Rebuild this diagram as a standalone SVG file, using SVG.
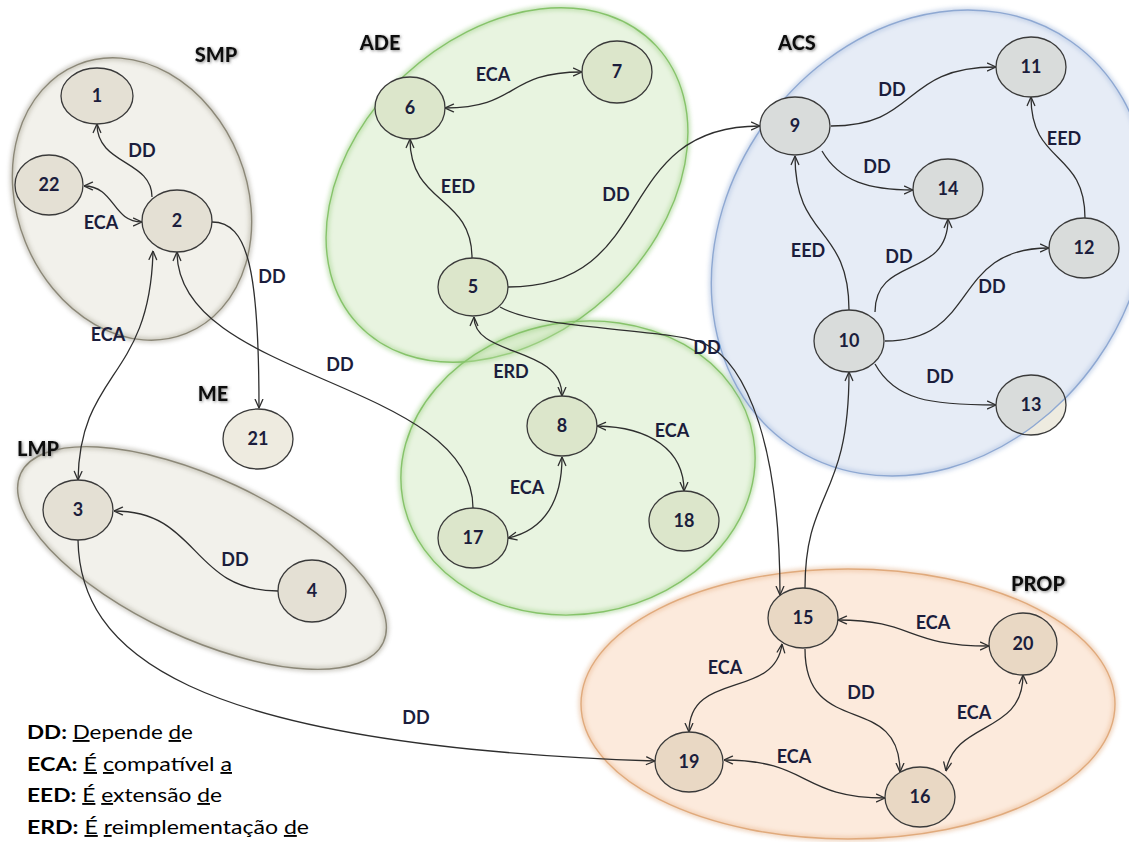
<svg xmlns="http://www.w3.org/2000/svg" xmlns:xlink="http://www.w3.org/1999/xlink" width="1129" height="842" viewBox="0 0 1129 842">
  <style>
    .zone { stroke-width: 1.4; }
    .halo { fill: none; stroke-width: 5; opacity: 0.45; filter: url(#blur); }
    .z-smp { fill: #cac3ac; fill-opacity: 0.24; stroke: #8c8878; }
    .z-ade { fill: #bde0a6; fill-opacity: 0.35; stroke: #86c36a; }
    .z-acs { fill: #b8c9e5; fill-opacity: 0.35; stroke: #8ea8d2; }
    .z-prop { fill: #f6c39b; fill-opacity: 0.35; stroke: #e0aa7c; }
    .h-smp { stroke: #8c8878; }
    .h-ade { stroke: #7cbf5e; }
    .h-acs { stroke: #8ea8d2; }
    .h-prop { stroke: #dca070; }
    .conn path { fill: none; stroke: #2e2e2e; stroke-width: 1.3; }
    .dd { marker-end: url(#arr); }
    .both { marker-start: url(#arr); marker-end: url(#arr); }
    .node ellipse.shape { stroke: #3a3a3a; stroke-width: 1.3; }
    .f-smp { fill: #e4e0d4; }
    .f-ade { fill: #dce6cb; }
    .f-acs { fill: #d9dcdb; }
    .f-prop { fill: #e9d8c4; }
    .f-me { fill: #eeebe0; }
    .node text, .elabel { font-family: Lato, "Open Sans", "Liberation Sans", sans-serif; font-weight: 700; font-size: 18px; fill: #1b1d3c; text-anchor: middle; }
    .glabel { font-family: Lato, "Open Sans", "Liberation Sans", sans-serif; font-weight: 900; font-size: 20px; fill: #111; text-anchor: middle; filter: url(#shade); }
    .legend { font-family: Lato, "Open Sans", "Liberation Sans", sans-serif; font-size: 19px; fill: #000; }
    .legend .k { font-weight: 700; }
    .u { text-decoration: underline; }
  </style>
  <defs>
    <marker id="arr" viewBox="0 0 10 10" refX="9.5" refY="5" markerWidth="10" markerHeight="10" markerUnits="userSpaceOnUse" orient="auto-start-reverse">
      <path d="M1,1.2 L9.5,5 L1,8.8" fill="none" stroke="#2e2e2e" stroke-width="1.3" stroke-linecap="round" stroke-linejoin="round"/>
    </marker>
    <filter id="blur" x="-10%" y="-10%" width="120%" height="120%">
      <feGaussianBlur stdDeviation="2"/>
    </filter>
    <filter id="shade" x="-20%" y="-40%" width="140%" height="180%">
      <feGaussianBlur in="SourceAlpha" stdDeviation="1.5" result="b"/>
      <feOffset in="b" dx="0.6" dy="0.8" result="o"/>
      <feFlood flood-color="#777" flood-opacity="0.85"/>
      <feComposite in2="o" operator="in" result="s"/>
      <feMerge><feMergeNode in="s"/><feMergeNode in="SourceGraphic"/></feMerge>
    </filter>
    <!-- outlines of the module groups -->
    <ellipse id="shSMP" cx="132" cy="199" rx="115" ry="145" transform="rotate(-22 132 199)"/>
    <ellipse id="shLMP" cx="202" cy="558" rx="200" ry="80" transform="rotate(25 202 558)"/>
    <ellipse id="shADE" cx="507" cy="185" rx="204" ry="150" transform="rotate(-43 507 185)"/>
    <ellipse id="shADE2" cx="578" cy="468" rx="178" ry="146" transform="rotate(-10 578 468)"/>
    <ellipse id="shACS" cx="930" cy="243" rx="246" ry="204" transform="rotate(-55 930 243)"/>
    <ellipse id="shPROP" cx="848" cy="704" rx="267" ry="135"/>
    <clipPath id="inACS"><use xlink:href="#shACS"/></clipPath>
    <clipPath id="in13"><ellipse cx="1031" cy="405" rx="35" ry="30"/></clipPath>
  </defs>

  <rect width="1129" height="842" fill="#fff"/>

  <!-- module groups -->
  <g id="zones">
    <use xlink:href="#shSMP" class="halo h-smp"/>
    <use xlink:href="#shSMP" class="zone z-smp"/>
    <use xlink:href="#shLMP" class="halo h-smp"/>
    <use xlink:href="#shLMP" class="zone z-smp"/>
    <use xlink:href="#shADE" class="halo h-ade"/>
    <use xlink:href="#shADE" class="zone z-ade"/>
    <use xlink:href="#shADE2" class="halo h-ade"/>
    <use xlink:href="#shADE2" class="zone z-ade"/>
    <use xlink:href="#shACS" class="halo h-acs"/>
    <use xlink:href="#shACS" class="zone z-acs"/>
    <use xlink:href="#shPROP" class="halo h-prop"/>
    <use xlink:href="#shPROP" class="zone z-prop"/>
  </g>

  <!-- relations -->
  <g id="connectors" class="conn">
    <path class="dd" d="M152,197 C152,160 97,165 97,124"/>
    <path class="both" d="M84,186 C115,186 112,222 142,222"/>
    <path class="dd" d="M212,222 C248,222 259,270 259,408"/>
    <path class="both" d="M153,251 C150,380 80,370 78,480"/>
    <path class="dd" d="M473,508 C473,380 177,380 177,252"/>
    <path class="dd" d="M278,591 C190,591 200,511 114,511"/>
    <path class="dd" d="M78,540 C80,650 180,745 655,761"/>
    <path class="both" d="M445,108 C520,108 505,72 582,72"/>
    <path class="dd" d="M472,258 C472,195 410,205 410,139"/>
    <path class="dd" d="M508,287 C660,287 610,126 760,126"/>
    <path class="both" d="M474,317 C474,358 562,345 562,396"/>
    <path class="both" d="M597,426 C650,427 684,450 684,491"/>
    <path class="both" d="M508,538 C545,530 562,500 562,457"/>
    <path class="dd" d="M500,307 C540,330 660,328 700,342 C735,352 780,420 780,595"/>
    <path class="dd" d="M805,588 C805,490 849,500 849,372"/>
    <path class="dd" d="M831,126 C920,126 900,67 996,67"/>
    <path class="dd" d="M822,151 C840,182 870,190 913,190"/>
    <path class="dd" d="M1085,218 C1085,150 1031,165 1031,97"/>
    <path class="dd" d="M849,310 C849,225 795,240 795,156"/>
    <path class="dd" d="M875,312 C875,255 948,280 948,219"/>
    <path class="dd" d="M885,341 C980,341 950,248 1049,248"/>
    <path class="dd" d="M875,364 C895,400 930,405 996,405"/>
    <path class="both" d="M838,620 C915,620 905,646 989,646"/>
    <path class="both" d="M782,644 C775,700 689,670 689,732"/>
    <path class="dd" d="M805,649 C805,740 900,690 900,772"/>
    <path class="both" d="M946,771 C955,720 1023,735 1023,675"/>
    <path class="both" d="M724,760 C810,760 800,798 885,798"/>
  </g>

  <!-- relation labels -->
  <g id="relation-labels">
    <text class="elabel" x="142" y="157">DD</text>
    <text class="elabel" x="101" y="229">ECA</text>
    <text class="elabel" x="272" y="283">DD</text>
    <text class="elabel" x="108" y="341">ECA</text>
    <text class="elabel" x="340" y="371">DD</text>
    <text class="elabel" x="235" y="566">DD</text>
    <text class="elabel" x="416" y="724">DD</text>
    <text class="elabel" x="493" y="81">ECA</text>
    <text class="elabel" x="458" y="193">EED</text>
    <text class="elabel" x="616" y="201">DD</text>
    <text class="elabel" x="707" y="354">DD</text>
    <text class="elabel" x="511" y="378">ERD</text>
    <text class="elabel" x="672" y="437">ECA</text>
    <text class="elabel" x="527" y="494">ECA</text>
    <text class="elabel" x="892" y="96">DD</text>
    <text class="elabel" x="877" y="173">DD</text>
    <text class="elabel" x="1064" y="145">EED</text>
    <text class="elabel" x="808" y="257">EED</text>
    <text class="elabel" x="899" y="263">DD</text>
    <text class="elabel" x="992" y="293">DD</text>
    <text class="elabel" x="940" y="383">DD</text>
    <text class="elabel" x="933" y="629">ECA</text>
    <text class="elabel" x="725" y="674">ECA</text>
    <text class="elabel" x="861" y="699">DD</text>
    <text class="elabel" x="974" y="719">ECA</text>
    <text class="elabel" x="794" y="763">ECA</text>
  </g>

  <!-- modules -->
  <g id="n1" class="node"><ellipse class="shape f-smp" cx="97" cy="96" rx="36" ry="28"/><text x="97" y="102">1</text></g>
  <g id="n22" class="node"><ellipse class="shape f-smp" cx="49" cy="185" rx="34" ry="30"/><text x="49" y="191">22</text></g>
  <g id="n2" class="node"><ellipse class="shape f-smp" cx="177" cy="221" rx="35" ry="31"/><text x="177" y="227">2</text></g>
  <g id="n3" class="node"><ellipse class="shape f-smp" cx="78" cy="510" rx="35" ry="30"/><text x="78" y="516">3</text></g>
  <g id="n4" class="node"><ellipse class="shape f-smp" cx="312" cy="591" rx="34" ry="31"/><text x="312" y="597">4</text></g>
  <g id="n21" class="node"><ellipse class="shape f-me" cx="258" cy="439" rx="35" ry="30"/><text x="258" y="445">21</text></g>
  <g id="n6" class="node"><ellipse class="shape f-ade" cx="410" cy="108" rx="35" ry="31"/><text x="410" y="114">6</text></g>
  <g id="n7" class="node"><ellipse class="shape f-ade" cx="617" cy="72" rx="35" ry="31"/><text x="617" y="78">7</text></g>
  <g id="n5" class="node"><ellipse class="shape f-ade" cx="473" cy="287" rx="35" ry="29"/><text x="473" y="293">5</text></g>
  <g id="n8" class="node"><ellipse class="shape f-ade" cx="562" cy="426" rx="35" ry="30"/><text x="562" y="432">8</text></g>
  <g id="n17" class="node"><ellipse class="shape f-ade" cx="473" cy="538" rx="35" ry="30"/><text x="473" y="544">17</text></g>
  <g id="n18" class="node"><ellipse class="shape f-ade" cx="684" cy="521" rx="35" ry="30"/><text x="684" y="527">18</text></g>
  <g id="n9" class="node"><ellipse class="shape f-acs" cx="795" cy="126" rx="35" ry="29"/><text x="795" y="132">9</text></g>
  <g id="n11" class="node"><ellipse class="shape f-acs" cx="1031" cy="67" rx="35" ry="30"/><text x="1031" y="73">11</text></g>
  <g id="n14" class="node"><ellipse class="shape f-acs" cx="948" cy="189" rx="35" ry="30"/><text x="948" y="195">14</text></g>
  <g id="n12" class="node"><ellipse class="shape f-acs" cx="1084" cy="248" rx="35" ry="30"/><text x="1084" y="254">12</text></g>
  <g id="n10" class="node"><ellipse class="shape f-acs" cx="849" cy="341" rx="35" ry="31"/><text x="849" y="347">10</text></g>
  <g id="n13" class="node">
    <ellipse class="f-me" cx="1031" cy="405" rx="35" ry="30"/>
    <ellipse class="f-acs" cx="1031" cy="405" rx="35" ry="30" clip-path="url(#inACS)"/>
    <use xlink:href="#shACS" fill="none" stroke="#8ea8d2" stroke-width="1.4" clip-path="url(#in13)"/>
    <ellipse class="shape" fill="none" cx="1031" cy="405" rx="35" ry="30"/>
    <text x="1031" y="411">13</text>
  </g>
  <g id="n15" class="node"><ellipse class="shape f-prop" cx="803" cy="618" rx="35" ry="30"/><text x="803" y="624">15</text></g>
  <g id="n20" class="node"><ellipse class="shape f-prop" cx="1023" cy="644" rx="34" ry="31"/><text x="1023" y="650">20</text></g>
  <g id="n19" class="node"><ellipse class="shape f-prop" cx="689" cy="762" rx="34" ry="30"/><text x="689" y="768">19</text></g>
  <g id="n16" class="node"><ellipse class="shape f-prop" cx="920" cy="797" rx="35" ry="30"/><text x="920" y="803">16</text></g>

  <!-- group names -->
  <g id="group-labels">
    <text class="glabel" x="216" y="62">SMP</text>
    <text class="glabel" x="380" y="50">ADE</text>
    <text class="glabel" x="797" y="50">ACS</text>
    <text class="glabel" x="213" y="401">ME</text>
    <text class="glabel" x="38" y="456">LMP</text>
    <text class="glabel" x="1038" y="591">PROP</text>
  </g>

  <!-- key -->
  <g id="legend" class="legend">
    <text x="27" y="739" textLength="166" lengthAdjust="spacingAndGlyphs"><tspan class="k">DD:</tspan> <tspan class="u">D</tspan>epende <tspan class="u">d</tspan>e</text>
    <text x="27" y="771" textLength="205" lengthAdjust="spacingAndGlyphs"><tspan class="k">ECA:</tspan> <tspan class="u">É</tspan> <tspan class="u">c</tspan>ompatível <tspan class="u">a</tspan></text>
    <text x="27" y="802" textLength="195" lengthAdjust="spacingAndGlyphs"><tspan class="k">EED:</tspan> <tspan class="u">É</tspan> <tspan class="u">e</tspan>xtensão <tspan class="u">d</tspan>e</text>
    <text x="27" y="834" textLength="282" lengthAdjust="spacingAndGlyphs"><tspan class="k">ERD:</tspan> <tspan class="u">É</tspan> <tspan class="u">r</tspan>eimplementação <tspan class="u">d</tspan>e</text>
  </g>
</svg>
